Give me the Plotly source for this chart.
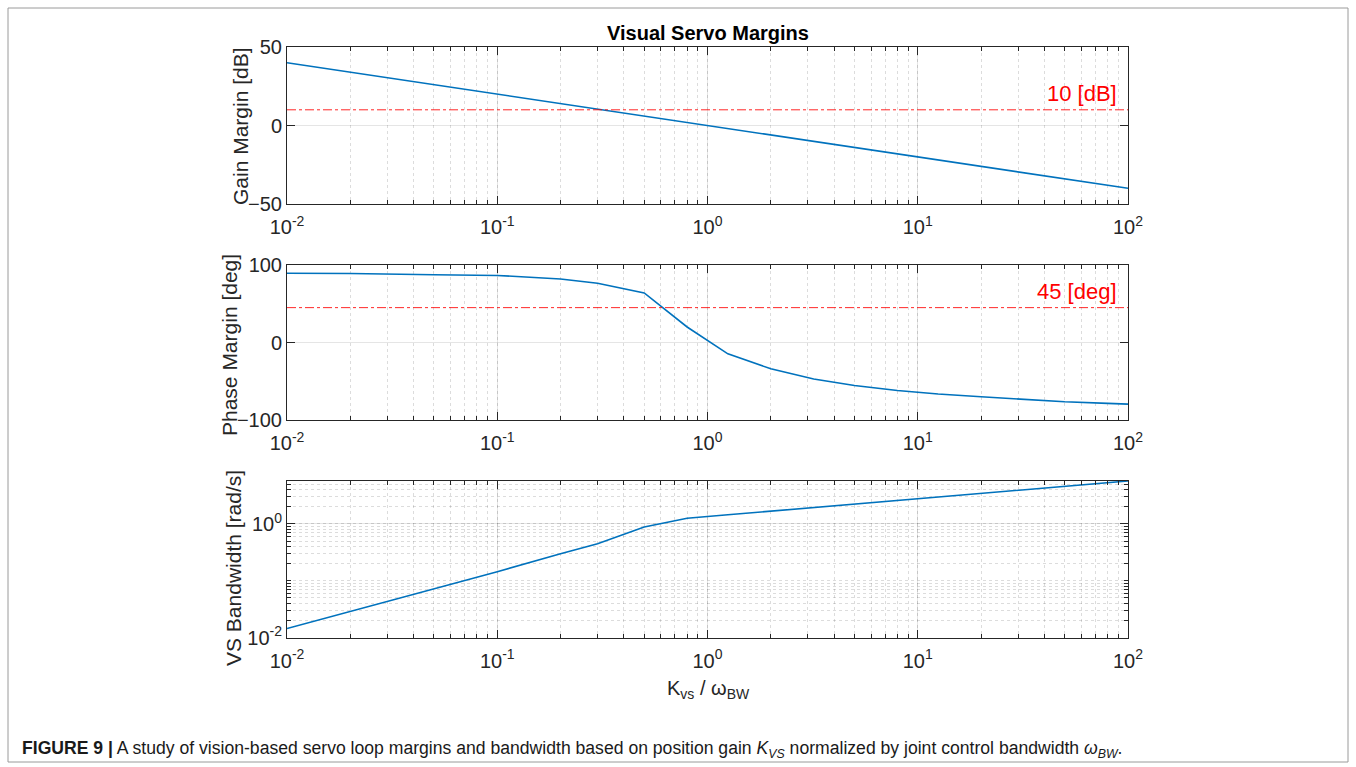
import plotly.graph_objects as go

# ---- data ----
k_ratio = [0.01, 0.02, 0.05, 0.1, 0.2, 0.3, 0.5, 0.8, 1.25, 2, 3.2, 5, 8, 12.5, 20, 32, 50, 80, 100]
gain_margin_db = [40, 34, 26, 20, 14, 10.5, 6, 2, -2, -6, -10, -14, -18, -22, -26, -30, -34, -38, -40]
phase_margin_deg = [89.4, 89.0, 87.5, 86.5, 82.0, 76.5, 64.0, 20.0, -14.6, -34.0, -47.0, -55.5,
                    -62.0, -66.5, -70.0, -73.5, -76.5, -78.5, -79.5]
vs_bandwidth = [0.0144, 0.029, 0.071, 0.144, 0.298, 0.448, 0.885, 1.26, 1.45, 1.68, 1.95, 2.24,
                2.59, 2.98, 3.45, 4.0, 4.6, 5.33, 5.72]
gm_limit = [10, 10]
pm_limit = [45, 45]
limit_x = [0.01, 100]
x_tick_vals = [0.01, 0.1, 1, 10, 100]
x_tick_text = ["10<sup>-2</sup>", "10<sup>-1</sup>", "10<sup>0</sup>", "10<sup>1</sup>", "10<sup>2</sup>"]
bw_tick_vals = [0.01, 1]
bw_tick_text = ["10<sup>-2</sup>", "10<sup>0</sup>"]

W, H = 1356, 767
FONT = "Arial, 'Liberation Sans', Helvetica, sans-serif"
AX = "#262626"
BLUE = "#0072BD"
RED = "rgba(255,0,0,0.85)"

def px_x(p):
    return p / W

def px_y(p):
    return 1 - p / H

x_dom = [px_x(287), px_x(1128)]
dom1 = [px_y(204), px_y(47)]
dom2 = [px_y(420), px_y(265)]
dom3 = [px_y(637.5), px_y(481)]

fig = go.Figure()
fig.add_trace(go.Scatter(x=k_ratio, y=gain_margin_db, mode="lines", xaxis="x", yaxis="y",
                         line=dict(color=BLUE, width=1.6), showlegend=False))
fig.add_trace(go.Scatter(x=limit_x, y=gm_limit, mode="lines", xaxis="x", yaxis="y",
                         line=dict(color=RED, width=1, dash="dashdot"), showlegend=False))
fig.add_trace(go.Scatter(x=k_ratio, y=phase_margin_deg, mode="lines", xaxis="x2", yaxis="y2",
                         line=dict(color=BLUE, width=1.6), showlegend=False))
fig.add_trace(go.Scatter(x=limit_x, y=pm_limit, mode="lines", xaxis="x2", yaxis="y2",
                         line=dict(color=RED, width=1, dash="dashdot"), showlegend=False))
fig.add_trace(go.Scatter(x=k_ratio, y=vs_bandwidth, mode="lines", xaxis="x3", yaxis="y3",
                         line=dict(color=BLUE, width=1.6), showlegend=False))

GRID = "rgba(38,38,38,0.12)"
MGRID = "rgba(38,38,38,0.16)"

def xaxis(anchor):
    return dict(type="log", range=[-2, 2], domain=x_dom, anchor=anchor, automargin=False,
                tickmode="array", tickvals=x_tick_vals, ticktext=x_tick_text,
                showline=True, linecolor=AX, linewidth=1, mirror="ticks",
                ticks="inside", ticklen=8, tickcolor=AX, showgrid=True, gridcolor=GRID, gridwidth=1,
                zeroline=False, tickfont=dict(family=FONT, size=20, color=AX),
                ticklabelstandoff=5,
                minor=dict(dtick="D1", ticks="inside", ticklen=4, tickcolor=AX, showgrid=True,
                           gridcolor=MGRID, griddash="dot", gridwidth=1))

def yaxis_lin(anchor, dom, rng, dt):
    return dict(range=rng, domain=dom, anchor=anchor, dtick=dt, automargin=False,
                showline=True, linecolor=AX,
                linewidth=1, mirror="ticks", ticks="inside", ticklen=8, tickcolor=AX,
                showgrid=True, gridcolor=GRID, zeroline=False,
                tickfont=dict(family=FONT, size=20, color=AX))

fig.update_layout(
    width=W, height=H, margin=dict(l=0, r=0, t=0, b=0, pad=0, autoexpand=False),
    paper_bgcolor="white", plot_bgcolor="white",
    font=dict(family=FONT, color=AX),
    showlegend=False,
    xaxis=xaxis("y"),
    xaxis2=xaxis("y2"),
    xaxis3=xaxis("y3"),
    yaxis=yaxis_lin("x", dom1, [-50, 50], 50),
    yaxis2=yaxis_lin("x2", dom2, [-100, 100], 100),
    yaxis3=dict(type="log", range=[-2, 0.757], domain=dom3, anchor="x3", automargin=False,
                tickmode="array", tickvals=bw_tick_vals, ticktext=bw_tick_text,
                showline=True, linecolor=AX, linewidth=1, mirror="ticks",
                ticks="inside", ticklen=8, tickcolor=AX, showgrid=True, gridcolor=GRID,
                zeroline=False, tickfont=dict(family=FONT, size=20, color=AX),
                minor=dict(dtick="D1", ticks="inside", ticklen=4, tickcolor=AX, showgrid=True,
                           gridcolor=MGRID, griddash="dot", gridwidth=1)),
)

ann = []
ann.append(dict(text="<b>Visual Servo Margins</b>", xref="paper", yref="paper",
                x=px_x(708), y=px_y(33), xanchor="center", yanchor="middle",
                showarrow=False, font=dict(size=20, color="black")))
for txt, xpx, ypx in [("Gain Margin [dB]", 240, 126), ("Phase Margin [deg]", 229, 345),
                      ("VS Bandwidth [rad/s]", 233, 568)]:
    ann.append(dict(text=txt, xref="paper", yref="paper", x=px_x(xpx), y=px_y(ypx),
                    xanchor="center", yanchor="middle",
                    textangle=-90, showarrow=False, font=dict(size=21, color=AX)))
ann.append(dict(text="K<sub>vs</sub> / ω<sub>BW</sub>", xref="paper", yref="paper",
                x=px_x(708), y=px_y(689), xanchor="center", yanchor="middle",
                showarrow=False, font=dict(size=20, color=AX)))
ann.append(dict(text="10 [dB]", xref="x domain", yref="y", x=0.9895, y=20.4, xanchor="right",
                yanchor="middle", showarrow=False, font=dict(size=22, color="red")))
ann.append(dict(text="45 [deg]", xref="x2 domain", yref="y2", x=0.9895, y=65.8, xanchor="right",
                yanchor="middle", showarrow=False, font=dict(size=22, color="red")))
ann.append(dict(text="<b>FIGURE 9 |</b> A study of vision-based servo loop margins and bandwidth based on "
                     "position gain <i>K</i><sub><i>VS</i></sub> normalized by joint control bandwidth "
                     "<i>ω</i><sub><i>BW</i></sub>.",
                xref="paper", yref="paper", x=px_x(20), y=px_y(749), xanchor="left", yanchor="middle",
                showarrow=False, font=dict(size=17.6, color="#1a1a1a")))
fig.update_layout(annotations=ann)

fig.add_shape(type="rect", xref="paper", yref="paper", x0=px_x(8), x1=px_x(1348),
              y0=px_y(762), y1=px_y(8), line=dict(color="#9a9a9a", width=1), layer="below")

fig.write_html("out.html")
